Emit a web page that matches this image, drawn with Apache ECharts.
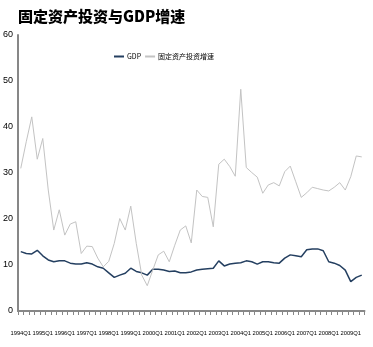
<!DOCTYPE html>
<html><head><meta charset="utf-8">
<script src="https://cdn.jsdelivr.net/npm/echarts@6/dist/echarts.min.js"></script>
<style>html,body{margin:0;padding:0;background:#fff}#c{width:373px;height:347px}</style>
</head><body><div id="c"></div>
<script>
var categories = [
"1994Q1","1994Q2","1994Q3","1994Q4","1995Q1","1995Q2","1995Q3","1995Q4",
"1996Q1","1996Q2","1996Q3","1996Q4","1997Q1","1997Q2","1997Q3","1997Q4",
"1998Q1","1998Q2","1998Q3","1998Q4","1999Q1","1999Q2","1999Q3","1999Q4",
"2000Q1","2000Q2","2000Q3","2000Q4","2001Q1","2001Q2","2001Q3","2001Q4",
"2002Q1","2002Q2","2002Q3","2002Q4","2003Q1","2003Q2","2003Q3","2003Q4",
"2004Q1","2004Q2","2004Q3","2004Q4","2005Q1","2005Q2","2005Q3","2005Q4",
"2006Q1","2006Q2","2006Q3","2006Q4","2007Q1","2007Q2","2007Q3","2007Q4",
"2008Q1","2008Q2","2008Q3","2008Q4","2009Q1","2009Q2","2009Q3"];
var gdp = [12.9,12.5,12.4,13.2,12.0,11.1,10.7,10.9,10.9,10.4,10.2,10.2,10.5,10.2,9.6,9.3,
8.3,7.3,7.8,8.2,9.3,8.6,8.3,7.8,9.1,9.1,8.9,8.6,8.7,8.3,8.3,8.5,
8.9,9.1,9.2,9.3,10.9,9.8,10.2,10.4,10.5,10.9,10.7,10.2,10.7,10.7,10.5,10.4,
11.5,12.2,12.0,11.8,13.3,13.5,13.5,13.1,10.7,10.4,9.9,8.9,6.4,7.3,7.8];
var fai = [31.0,36.8,42.2,33.0,37.5,26.3,17.6,22.0,16.5,18.9,19.4,12.5,14.1,14.0,11.5,9.6,
10.8,14.7,20.1,17.6,22.8,14.7,7.8,5.5,8.9,12.2,13.0,10.7,14.3,17.6,18.5,14.8,
26.3,24.9,24.7,18.3,31.9,33.0,31.4,29.3,48.2,31.2,30.1,29.1,25.6,27.4,27.9,27.2,
30.3,31.5,28.1,24.7,25.7,26.9,26.6,26.3,26.1,26.9,27.9,26.3,29.2,33.7,33.5];
var yTicks = {min:0, max:60, interval:10};
var seriesNames = ["GDP","固定资产投资增速"];

var narrow = "'Liberation Sans Narrow','Liberation Sans',sans-serif";
var chart = echarts.init(document.getElementById('c'), null, {renderer:'canvas'});
chart.setOption({
  animation:false,
  backgroundColor:'#fff',
  title:{text:'固定资产投资与GDP增速', left:13, top:4,
    textStyle:{fontFamily:"'Noto Sans CJK SC'", fontWeight:900, fontSize:15, color:'#000'}},
  legend:{left:109, top:48, itemWidth:10, itemHeight:2, itemGap:4, icon:'rect',
    textStyle:{fontFamily:"'Noto Sans CJK SC'", fontSize:7, color:'#000', padding:[0,0,0,-2]},
    data:seriesNames},
  grid:{left:17, right:8.5, top:35, bottom:36, containLabel:false},
  xAxis:{type:'category', data:categories, boundaryGap:true,
    axisLine:{lineStyle:{color:'#878787', width:2}},
    axisTick:{show:true, interval:0, length:4, lineStyle:{color:'#878787', width:1}},
    axisLabel:{interval:function(i){return i % 4 === 0;}, margin:19, hideOverlap:false,
      fontFamily:narrow, fontSize:5.8, color:'#000'},
    splitLine:{show:false}},
  yAxis:{type:'value', min:yTicks.min, max:yTicks.max, interval:yTicks.interval,
    axisLine:{show:true, lineStyle:{color:'#878787', width:2}},
    axisTick:{show:false},
    axisLabel:{margin:5, fontFamily:narrow, fontSize:9, color:'#000'},
    splitLine:{show:false}},
  series:[
    {name:seriesNames[0], type:'line', data:gdp, symbol:'none',
      lineStyle:{color:'#243F60', width:1.5}, itemStyle:{color:'#243F60'}},
    {name:seriesNames[1], type:'line', data:fai, symbol:'none',
      lineStyle:{color:'#C3C3C3', width:1}, itemStyle:{color:'#C3C3C3'}}
  ]
});
</script></body></html>
